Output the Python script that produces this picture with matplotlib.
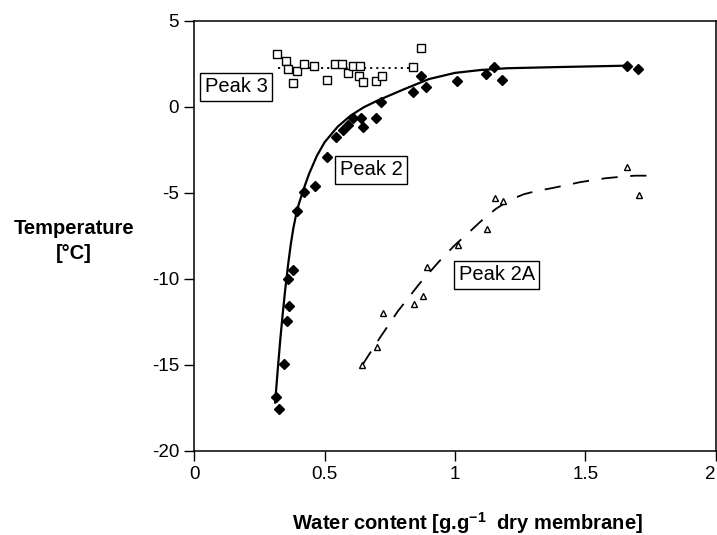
import matplotlib
matplotlib.use('Agg')
import matplotlib.pyplot as plt

plt.rcParams['font.family'] = ['Liberation Sans', 'DejaVu Sans']
plt.rcParams['axes.unicode_minus'] = False
plt.rcParams['mathtext.fontset'] = 'custom'
plt.rcParams['mathtext.rm'] = 'Liberation Sans'
plt.rcParams['mathtext.bf'] = 'Liberation Sans:bold'

# Peak 2 - filled diamonds
p2_x = [0.314, 0.326, 0.343, 0.354, 0.358, 0.364, 0.380, 0.395, 0.422, 0.463,
        0.508, 0.542, 0.569, 0.588, 0.610, 0.638, 0.648, 0.697, 0.718, 0.840,
        0.869, 0.888, 1.008, 1.118, 1.150, 1.182, 1.658, 1.703]
p2_t = [-16.87, -17.59, -14.97, -12.47, -10.0, -11.58, -9.50, -6.05, -4.94, -4.60,
        -2.89, -1.73, -1.34, -1.05, -0.66, -0.62, -1.15, -0.62, 0.31, 0.89,
        1.82, 1.18, 1.51, 1.90, 2.35, 1.57, 2.40, 2.21]
# fitted curve of peak 2
p2_fit_x = [0.31, 0.32, 0.33, 0.34, 0.35, 0.36, 0.37, 0.38, 0.39, 0.40,
            0.42, 0.44, 0.47, 0.50, 0.55, 0.60, 0.65, 0.70, 0.80, 0.90,
            1.00, 1.10, 1.20, 1.40, 1.66]
p2_fit_t = [-17.2, -15.3, -13.5, -11.9, -10.45, -9.15, -8.0, -7.05, -6.3, -5.7,
            -4.75, -3.9, -2.85, -2.05, -1.15, -0.5, -0.02, 0.35, 1.0, 1.62,
            1.98, 2.15, 2.25, 2.32, 2.4]

# Peak 3 - open squares
p3_x = [0.318, 0.352, 0.359, 0.377, 0.395, 0.421, 0.460, 0.508, 0.540, 0.568,
        0.588, 0.610, 0.635, 0.633, 0.648, 0.696, 0.721, 0.840, 0.869]
p3_t = [3.08, 2.68, 2.19, 1.41, 2.11, 2.48, 2.40, 1.59, 2.50, 2.50,
        2.0, 2.39, 2.39, 1.80, 1.47, 1.51, 1.82, 2.31, 3.41]
p3_fit_x = [0.32, 0.84]
p3_fit_t = [2.25, 2.25]

# Peak 2A - open triangles
p2a_x = [0.644, 0.702, 0.722, 0.842, 0.876, 0.891, 1.012, 1.124, 1.153, 1.185, 1.660, 1.705]
p2a_t = [-15.03, -13.98, -11.97, -11.46, -10.98, -9.33, -8.03, -7.12, -5.31, -5.47, -3.51, -5.12]
p2a_fit_x = [0.644, 0.70, 0.78, 0.865, 0.952, 1.0, 1.057, 1.108, 1.157, 1.211, 1.264,
             1.313, 1.370, 1.428, 1.479, 1.533, 1.577, 1.639, 1.69, 1.747]
p2a_fit_t = [-15.03, -13.7, -11.9, -10.26, -8.77, -8.03, -7.25, -6.53, -5.93, -5.41, -5.08,
             -4.89, -4.73, -4.55, -4.38, -4.25, -4.15, -4.06, -4.0, -4.0]

xticks = [0, 0.5, 1, 1.5, 2]
xtick_labels = ['0', '0.5', '1', '1.5', '2']
yticks = [5, 0, -5, -10, -15, -20]
ytick_labels = ['5', '0', '-5', '-10', '-15', '-20']

fig = plt.figure(figsize=(7.17, 5.35), dpi=100)
ax = fig.add_axes([0.271, 0.1576, 0.7272, 0.8032])

ax.plot(p2_fit_x, p2_fit_t, color='black', lw=1.6)
ax.plot(p2_x, p2_t, 'D', color='black', ms=5.3, ls='none')

ax.plot(p3_fit_x, p3_fit_t, color='black', lw=1.3, ls=(0, (1.2, 2.2)))
ax.plot(p3_x, p3_t, 's', mfc='white', mec='black', mew=1.0, ms=5.2, ls='none')

ax.plot(p2a_fit_x, p2a_fit_t, color='black', lw=1.3, ls=(0, (9, 7)))
ax.plot(p2a_x, p2a_t, '^', mfc='white', mec='black', mew=1.0, ms=5, ls='none')

box = dict(boxstyle='square,pad=0.22', fc='white', ec='black', lw=1.0)
ax.text(0.16, 1.16, 'Peak 3', fontsize=14.5, ha='center', va='center', bbox=box)
ax.text(0.678, -3.67, 'Peak 2', fontsize=14.5, ha='center', va='center', bbox=box)
ax.text(1.161, -9.77, 'Peak 2A', fontsize=14.5, ha='center', va='center', bbox=box)

ax.set_xlim(0, 2)
ax.set_ylim(-20, 5)
ax.set_xticks(xticks)
ax.set_xticklabels(xtick_labels)
ax.set_yticks(yticks)
ax.set_yticklabels(ytick_labels)
ax.tick_params(direction='out', length=7, width=1.0, labelsize=13.5, pad=4)
# last label sits at the right edge of the figure
ax.get_xticklabels()[-1].set_horizontalalignment('right')
for s in ax.spines.values():
    s.set_linewidth(1.1)

fig.text(467 / 717, 1 - 523 / 535, r'Water content [g.g$^{\mathbf{-1}}$  dry membrane]',
         fontsize=14.5, fontweight='bold', ha='center', va='center')
fig.text(74 / 717, 1 - 241 / 535, 'Temperature\n[\u00b0C]', fontsize=14.5,
         fontweight='bold', ha='center', va='center', linespacing=1.45)

fig.savefig('out.png', dpi=100)
